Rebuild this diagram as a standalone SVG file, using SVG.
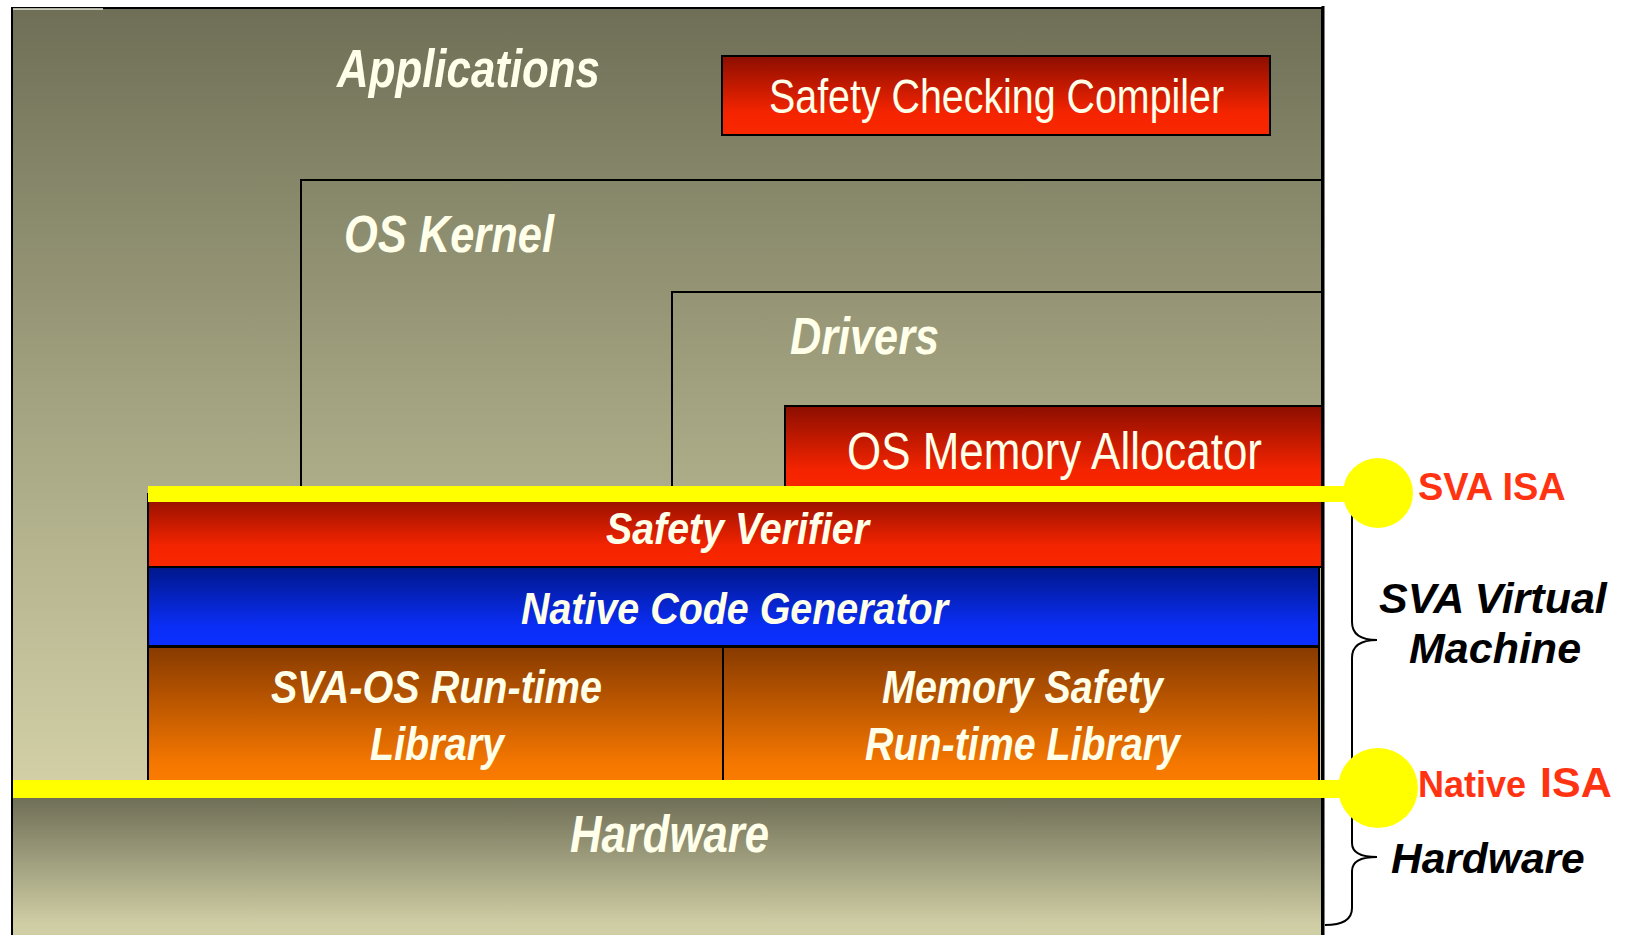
<svg xmlns="http://www.w3.org/2000/svg" width="1632" height="935" viewBox="0 0 1632 935">
  <defs>
    <linearGradient id="bgGrad" gradientUnits="userSpaceOnUse" x1="0" y1="8" x2="0" y2="780">
      <stop offset="0" stop-color="#6F6F57"/>
      <stop offset="0.5" stop-color="#A2A280"/>
      <stop offset="1" stop-color="#D2CFA6"/>
    </linearGradient>
    <linearGradient id="hwGrad" gradientUnits="userSpaceOnUse" x1="0" y1="798" x2="0" y2="925">
      <stop offset="0" stop-color="#6F6F57"/>
      <stop offset="1" stop-color="#D0CEA5"/>
    </linearGradient>
    <linearGradient id="redGrad" x1="0" y1="0" x2="0" y2="1">
      <stop offset="0" stop-color="#8C0E00"/>
      <stop offset="0.72" stop-color="#F52400"/>
      <stop offset="1" stop-color="#FA2800"/>
    </linearGradient>
    <linearGradient id="blueGrad" x1="0" y1="0" x2="0" y2="1">
      <stop offset="0" stop-color="#00178A"/>
      <stop offset="0.75" stop-color="#0A2EF5"/>
      <stop offset="1" stop-color="#0B30FF"/>
    </linearGradient>
    <linearGradient id="orangeGrad" x1="0" y1="0" x2="0" y2="1">
      <stop offset="0" stop-color="#873A00"/>
      <stop offset="0.85" stop-color="#F77800"/>
      <stop offset="1" stop-color="#FB7C00"/>
    </linearGradient>
  </defs>
  <style>
    .box { stroke: #000; stroke-width: 2; }
    .bg { fill: url(#bgGrad); }
    .red { fill: url(#redGrad); }
    .blue { fill: url(#blueGrad); }
    .orange { fill: url(#orangeGrad); }
    .lbl { font-family: "Liberation Sans", Arial, sans-serif; font-weight: bold; font-style: italic; fill: #FFFFEA; }
    .plain { font-family: "Liberation Sans", Arial, sans-serif; font-weight: normal; fill: #FFFFEA; }
    .side { font-family: "Liberation Sans", Arial, sans-serif; font-weight: bold; font-style: italic; fill: #000; }
    .isa { font-family: "Liberation Sans", Arial, sans-serif; font-weight: bold; fill: #FF3311; }
    .yellow { fill: #FFFF00; }
    .brace { fill: none; stroke: #000; stroke-width: 2; }
  </style>

  <g id="applications">
    <rect class="box bg" x="12" y="8" width="1310" height="927"/>
    <line x1="13" y1="9" x2="103" y2="9" stroke="#E8E8D8" stroke-width="1.5"/>
    <text class="lbl" x="337" y="87" font-size="53" textLength="263" lengthAdjust="spacingAndGlyphs">Applications</text>
  </g>

  <g id="safety-checking-compiler">
    <rect class="box red" x="722" y="56" width="548" height="79"/>
    <text class="plain" x="769" y="113" font-size="48" textLength="455" lengthAdjust="spacingAndGlyphs">Safety Checking Compiler</text>
  </g>

  <g id="os-kernel">
    <rect class="box bg" x="301" y="180" width="1021" height="320"/>
    <text class="lbl" x="344" y="252" font-size="52" textLength="210" lengthAdjust="spacingAndGlyphs">OS Kernel</text>
  </g>

  <g id="drivers">
    <rect class="box bg" x="672" y="292" width="650" height="210"/>
    <text class="lbl" x="790" y="354" font-size="52" textLength="149" lengthAdjust="spacingAndGlyphs">Drivers</text>
  </g>

  <g id="os-memory-allocator">
    <rect class="box red" x="785" y="406" width="537" height="90"/>
    <text class="plain" x="847" y="469" font-size="51" textLength="415" lengthAdjust="spacingAndGlyphs">OS Memory Allocator</text>
  </g>

  <g id="safety-verifier">
    <rect class="box red" x="148" y="494" width="1174" height="73"/>
    <text class="lbl" x="606" y="544" font-size="45" textLength="263" lengthAdjust="spacingAndGlyphs">Safety Verifier</text>
  </g>

  <g id="native-code-generator">
    <rect class="box blue" x="148" y="567" width="1171" height="79"/>
    <text class="lbl" x="521" y="624" font-size="45" textLength="427" lengthAdjust="spacingAndGlyphs">Native Code Generator</text>
  </g>

  <g id="sva-os-runtime">
    <rect class="box orange" x="148" y="647" width="575" height="140"/>
    <text class="lbl" x="271" y="703" font-size="46" textLength="331" lengthAdjust="spacingAndGlyphs">SVA-OS Run-time</text>
    <text class="lbl" x="370" y="760" font-size="46" textLength="134" lengthAdjust="spacingAndGlyphs">Library</text>
  </g>

  <g id="memory-safety-runtime">
    <rect class="box orange" x="723" y="647" width="596" height="140"/>
    <text class="lbl" x="882" y="703" font-size="46" textLength="281" lengthAdjust="spacingAndGlyphs">Memory Safety</text>
    <text class="lbl" x="865" y="760" font-size="46" textLength="315" lengthAdjust="spacingAndGlyphs">Run-time Library</text>
  </g>

  <g id="hardware">
    <rect x="12" y="789" width="1310" height="150" fill="url(#hwGrad)" stroke="#000" stroke-width="2"/>
    <text class="lbl" x="570" y="852" font-size="51" textLength="199" lengthAdjust="spacingAndGlyphs">Hardware</text>
  </g>

  <line x1="1323" y1="6" x2="1323" y2="935" stroke="#000" stroke-width="3"/>

  <g id="connectors">
    <path class="brace" d="M1352 505 L1352 622 C1352 634 1360 640 1377 640 C1360 640 1352 646 1352 658 L1352 790"/>
    <path class="brace" d="M1352 790 L1352 843 C1352 852 1360 857 1377 857 C1360 857 1352 862 1352 871 L1352 908 C1352 920 1342 925 1325 925"/>
    <rect class="yellow" x="148" y="486" width="1230" height="16"/>
    <circle class="yellow" cx="1378" cy="493" r="35"/>
    <rect class="yellow" x="13" y="780" width="1365" height="18"/>
    <circle class="yellow" cx="1378" cy="788" r="40"/>
  </g>

  <g id="sva-isa-label">
    <text class="isa" x="1418" y="500" font-size="38">SVA ISA</text>
  </g>
  <g id="sva-vm-label">
    <text class="side" x="1379" y="613" font-size="43">SVA Virtual</text>
    <text class="side" x="1409" y="663" font-size="43">Machine</text>
  </g>
  <g id="native-isa-label">
    <text class="isa" x="1418" y="797"><tspan font-size="36">Native</tspan><tspan x="1540" font-size="43">ISA</tspan></text>
  </g>
  <g id="hardware-label">
    <text class="side" x="1391" y="873" font-size="42.5">Hardware</text>
  </g>
</svg>
